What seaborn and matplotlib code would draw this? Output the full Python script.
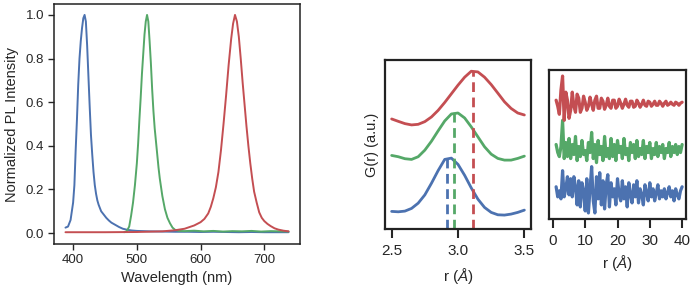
import numpy as np
import pandas as pd
import matplotlib.pyplot as plt
import seaborn as sns

sns.set_theme(style="ticks")
plt.rcParams['font.family'] = ['Liberation Sans', 'DejaVu Sans']
plt.rcParams['mathtext.fontset'] = 'custom'
plt.rcParams['mathtext.rm'] = 'Liberation Sans'
plt.rcParams['mathtext.it'] = 'Liberation Sans:italic'

deep = sns.color_palette("deep")
c_blue, c_green, c_red = deep[0], deep[2], deep[3]

# --- panel 1: normalized PL spectra ---
wl_blue = [388, 392, 396, 400, 402, 404, 406, 408, 410, 412, 414, 416, 418, 420,
           422, 424, 426, 428, 430, 432, 434, 436, 438, 440, 444, 448, 452, 456,
           460, 466, 472, 478, 485, 492, 500, 520, 540, 560, 580, 600, 620, 640,
           660, 680, 700, 720, 738]
pl_blue = [0.025, 0.03, 0.06, 0.14, 0.22, 0.38, 0.52, 0.68, 0.80, 0.88, 0.94, 0.985,
           1.0, 0.97, 0.86, 0.72, 0.58, 0.45, 0.36, 0.28, 0.22, 0.18, 0.15, 0.13,
           0.10, 0.085, 0.07, 0.058, 0.048, 0.038, 0.028, 0.02, 0.015, 0.012, 0.01,
           0.008, 0.007, 0.006, 0.006, 0.005, 0.006, 0.005, 0.004, 0.005, 0.004,
           0.004, 0.004]

wl_green = [480, 484, 488, 491, 494, 497, 500, 502, 504, 506, 508, 510, 512, 514,
            516, 518, 520, 522, 524, 526, 528, 530, 532, 534, 536, 538, 540, 544,
            548, 552, 556, 560, 566, 575, 590, 605, 620, 635, 650, 665, 680, 695,
            710, 725, 738]
pl_green = [0.004, 0.008, 0.03, 0.08, 0.14, 0.22, 0.32, 0.41, 0.52, 0.62, 0.73,
            0.82, 0.91, 0.97, 1.0, 0.97, 0.88, 0.78, 0.66, 0.56, 0.48, 0.42, 0.36,
            0.30, 0.25, 0.21, 0.17, 0.11, 0.07, 0.045, 0.025, 0.015, 0.01, 0.009,
            0.011, 0.008, 0.01, 0.007, 0.009, 0.008, 0.01, 0.007, 0.009, 0.008,
            0.007]

wl_red = [388, 450, 500, 540, 560, 575, 590, 600, 606, 612, 616, 620, 624, 628,
          632, 636, 640, 644, 648, 651, 654, 657, 660, 663, 666, 669, 672, 675,
          678, 681, 684, 688, 692, 696, 700, 705, 710, 716, 722, 730, 738]
pl_red = [0.004, 0.004, 0.005, 0.008, 0.013, 0.02, 0.035, 0.05, 0.065, 0.09, 0.12,
          0.16, 0.21, 0.28, 0.38, 0.50, 0.63, 0.77, 0.89, 0.96, 1.0, 0.97, 0.90,
          0.80, 0.69, 0.59, 0.49, 0.40, 0.32, 0.25, 0.19, 0.14, 0.095, 0.07,
          0.055, 0.042, 0.032, 0.022, 0.016, 0.011, 0.008]

# --- panel 2: first PDF peak (offset curves, arbitrary units) ---
r_peak = [2.5, 2.55, 2.6, 2.65, 2.7, 2.75, 2.8, 2.85, 2.9, 2.95, 3.0, 3.05, 3.1,
          3.15, 3.2, 3.25, 3.3, 3.35, 3.4, 3.45, 3.5]
g_blue = [17.7, 17.3, 18.0, 20.7, 26.0, 34.3, 46.0, 58.7, 70.0, 71.3, 65.0, 54.0,
          41.3, 30.0, 21.7, 16.7, 14.3, 14.0, 15.0, 16.7, 19.0]
g_green = [74.0, 72.7, 70.7, 70.0, 72.7, 79.3, 88.3, 98.7, 108.7, 115.7, 116.7,
           111.7, 102.7, 92.7, 82.7, 75.3, 71.0, 69.3, 69.3, 71.0, 73.3]
g_red = [110.7, 108.3, 106.0, 104.7, 105.3, 108.0, 112.7, 119.3, 127.3, 136.0,
         144.7, 152.7, 158.7, 158.0, 152.7, 145.3, 136.7, 128.0, 121.3, 116.7, 114.7]
peak_pos = [2.92, 2.97, 3.11]
peak_height = [72.5, 117.3, 159.3]

# --- panel 3: long range PDF ---
r_long = np.arange(1, 40.01, 0.5)
gl_red = [118, 112, 104, 128, 142, 98, 126, 118, 100, 108, 126, 112, 106, 124, 120,
          106, 110, 122, 116, 108, 112, 121, 114, 108, 118, 122, 110, 110, 120, 117,
          109, 113, 120, 112, 110, 118, 118, 110, 112, 119, 115, 110, 114, 119, 113,
          111, 117, 117, 111, 112, 118, 115, 111, 114, 118, 113, 112, 117, 116, 112,
          114, 117, 113, 113, 117, 115, 112, 115, 117, 113, 114, 116, 114, 113, 116,
          115, 113, 115, 116]
gl_green = [74, 66, 62, 72, 98, 60, 76, 62, 80, 60, 74, 64, 82, 58, 72, 62, 78, 64,
            68, 58, 76, 66, 86, 60, 74, 56, 78, 64, 72, 58, 82, 62, 70, 60, 80, 62,
            74, 58, 78, 66, 72, 60, 80, 64, 70, 58, 76, 66, 74, 60, 78, 62, 70, 64,
            78, 60, 72, 66, 76, 60, 70, 64, 76, 62, 72, 66, 74, 60, 70, 66, 76, 62,
            72, 66, 74, 64, 72, 66, 74]
gl_blue = [32, 22, 28, 20, 48, 22, 30, 42, 24, 40, 22, 42, 32, 14, 38, 12, 36, 28,
           8, 40, 6, 30, 52, 18, 6, 42, 20, 46, 14, 38, 10, 34, 44, 12, 36, 22, 30,
           14, 40, 24, 18, 38, 20, 32, 12, 36, 24, 16, 34, 22, 38, 16, 30, 24, 14,
           34, 26, 18, 36, 22, 30, 18, 26, 34, 20, 28, 22, 30, 20, 26, 32, 22, 28,
           18, 30, 24, 20, 28, 32]

W, H = 693, 292
fig = plt.figure(figsize=(W / 100, H / 100), dpi=100)
ax1 = fig.add_axes([54 / W, 1 - 244 / H, 246 / W, 240 / H])
ax2 = fig.add_axes([385 / W, 1 - 229 / H, 146 / W, 169 / H])
ax3 = fig.add_axes([549 / W, 1 - 219 / H, 137 / W, 149 / H])

# panel 1
for wl, pl, c in [(wl_blue, pl_blue, c_blue), (wl_green, pl_green, c_green),
                  (wl_red, pl_red, c_red)]:
    sns.lineplot(x=wl, y=pl, color=c, lw=1.4, ax=ax1)
ax1.set_xlim(370, 756)
ax1.set_ylim(-0.05, 1.05)
ax1.set_xticks([400, 500, 600, 700])
ax1.set_yticks([0.0, 0.2, 0.4, 0.6, 0.8, 1.0])
ax1.set_xlabel("Wavelength (nm)", fontsize=10.5, labelpad=4)
ax1.set_ylabel("Normalized PL Intensity", fontsize=10.5, labelpad=5)
ax1.tick_params(labelsize=9.5, length=4, width=1, pad=3)

# panel 2
for g, c in [(g_blue, c_blue), (g_green, c_green), (g_red, c_red)]:
    sns.lineplot(x=r_peak, y=g, color=c, lw=2, ax=ax2)
ax2.vlines(peak_pos, 0, peak_height, colors=[c_blue, c_green, c_red],
           linestyles=(0, (3.5, 2)), lw=2)
ax2.set_xlim(2.45, 3.55)
ax2.set_ylim(0, 170)
ax2.set_xticks([2.5, 3.0, 3.5])
ax2.set_yticks([])
ax2.set_xlabel(r"r ($\mathit{Å}$)", fontsize=11, labelpad=6)
ax2.set_ylabel("G(r) (a.u.)", fontsize=10.5, labelpad=4)
ax2.tick_params(labelsize=11, length=6.5, width=1.5, pad=4)

# panel 3
for g, c in [(gl_blue, c_blue), (gl_green, c_green), (gl_red, c_red)]:
    sns.lineplot(x=r_long, y=g, color=c, lw=2.3, ax=ax3)
ax3.set_xlim(-1.2, 41.2)
ax3.set_ylim(0, 148)
ax3.set_xticks([0, 10, 20, 30, 40])
ax3.set_yticks([])
ax3.set_xlabel(r"r ($\mathit{Å}$)", fontsize=11, labelpad=4)
ax3.tick_params(labelsize=11, length=6.5, width=1.5, pad=4)

for ax in (ax1, ax2, ax3):
    for s in ax.spines.values():
        s.set_visible(True)
        s.set_color('#222222')
ax1.spines[:].set_linewidth(1.1)
ax2.spines[:].set_linewidth(1.6)
ax3.spines[:].set_linewidth(1.6)

fig.savefig("out.png", dpi=100)
